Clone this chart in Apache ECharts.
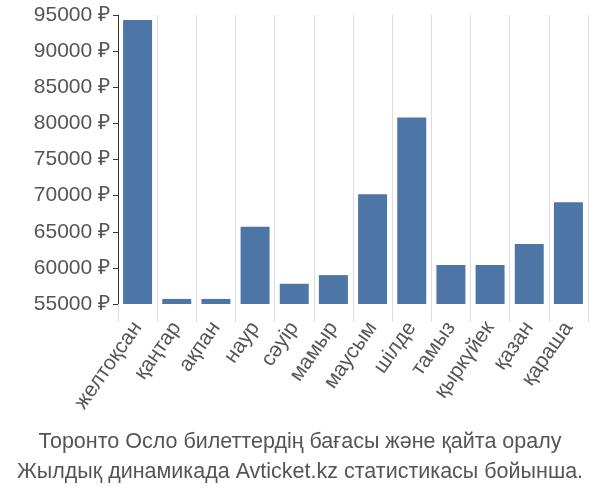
<!DOCTYPE html><html><head><meta charset="utf-8"><script src="https://cdn.jsdelivr.net/npm/echarts@6/dist/echarts.min.js"></script></head><body style="margin:0"><div id="c" style="width:600px;height:500px"></div><script>
const categories=["желтоқсан","қаңтар","ақпан","наур","сәуір","мамыр","маусым","шілде","тамыз","қыркүйек","қазан","қараша"];
const values=[94300,55700,55700,65700,57800,59000,70200,80800,60400,60400,63300,69100];
const title1="Торонто Осло билеттердің бағасы және қайта оралу";
const title2="Жылдық динамикада Avticket.kz статистикасы бойынша.";
const c=echarts.init(document.getElementById('c'));
c.setOption({animation:false,
title:{text:title1+"\n"+title2,left:'center',bottom:8,textStyle:{fontFamily:'Liberation Sans',fontSize:21.5,fontWeight:'normal',color:'#555',lineHeight:30}},
grid:{left:118,right:12,top:15,bottom:196},
xAxis:{type:'category',data:categories,axisLine:{show:false},axisTick:{show:true,length:18,lineStyle:{color:'#ddd'}},
splitLine:{show:true,lineStyle:{color:'#ddd'}},axisLabel:{rotate:55,margin:20,fontSize:21,color:'#555',fontFamily:'Liberation Sans'}},
yAxis:{type:'value',min:55000,max:95000,interval:5000,axisLine:{show:true,lineStyle:{color:'#333'}},axisTick:{show:true,lineStyle:{color:'#333'}},splitLine:{show:false},
axisLabel:{formatter:v=>v+' ₽',fontSize:21,color:'#555',fontFamily:'Liberation Sans'}},
series:[{type:'bar',data:values,barWidth:'74%',itemStyle:{color:'#4d76a6'}}]});
</script></body></html>
